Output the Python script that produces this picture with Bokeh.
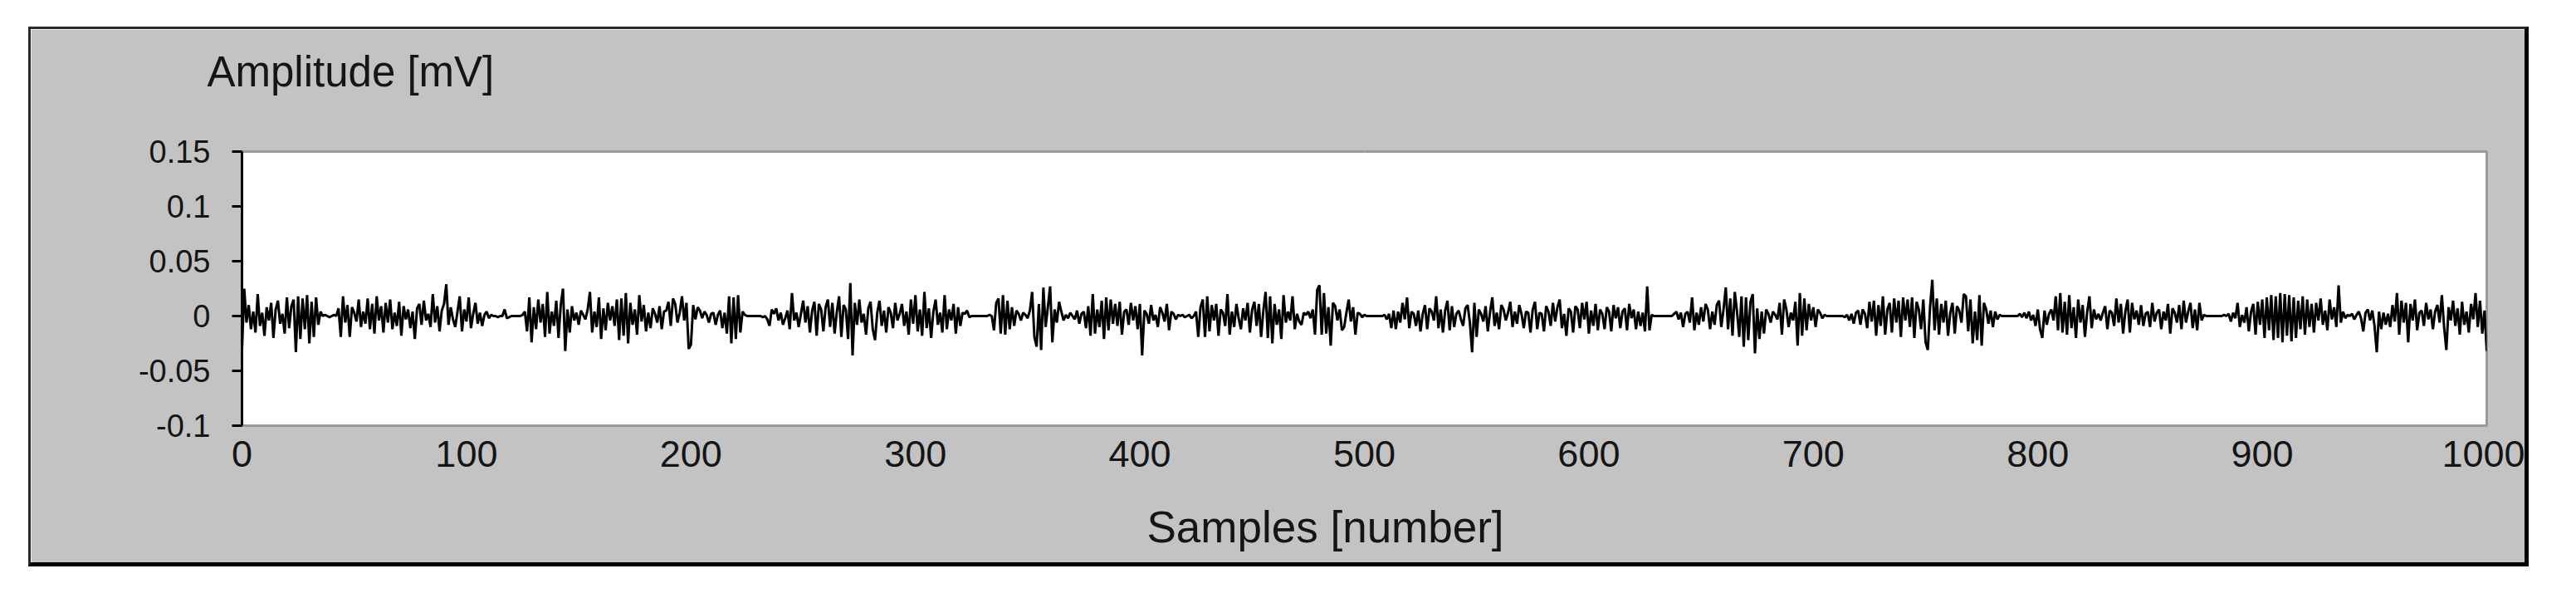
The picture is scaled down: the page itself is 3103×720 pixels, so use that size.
from bokeh.plotting import figure
from bokeh.models import FixedTicker, Title, LinearAxis
from bokeh.embed import file_html
from bokeh.resources import INLINE

# ---- data (amplitude in mV, one value per sample) ----
seg_000 = [-0.031, 0.025, -0.006, 0.010, -0.012, 0.004, -0.015, 0.020, -0.009, 0.003,
           -0.018, 0.008, -0.004, 0.012, -0.020, 0.006, 0.014, -0.007, 0.002, -0.016,
           0.017, -0.011, 0.009, 0.015, -0.033, 0.018, -0.021, 0.016, -0.012, 0.019,
           -0.025, 0.013, -0.019, 0.017, -0.008, 0.004, 0.000, 0.001, 0.000, -0.001,
           0.000, 0.001, 0.000, 0.007, -0.019, 0.018, -0.006, 0.010, -0.019, 0.008,
           0.003, -0.005, 0.015, -0.010, 0.004, -0.007, 0.016, -0.012, 0.011, -0.016,
           0.018, -0.004, 0.009, -0.015, 0.012, -0.006, 0.015, -0.012, 0.003, -0.009,
           0.013, -0.018, 0.009, -0.003, 0.006, -0.011, 0.004, -0.021, 0.007, 0.011,
           -0.008, 0.014, -0.004, 0.002, -0.010, 0.020, -0.006, 0.009, -0.014, 0.005,
           0.011, 0.029, -0.008, 0.008, -0.003, -0.010, 0.004, 0.018, -0.014, 0.006]
seg_100 = [-0.005, 0.017, -0.011, 0.002, 0.012, -0.007, 0.003, -0.009, 0.001, 0.004,
           -0.002, 0.001, 0.000, 0.000, -0.001, 0.000, 0.000, 0.006, -0.002, -0.001,
           0.000, 0.000, 0.000, 0.000, 0.000, 0.001, 0.004, -0.014, 0.017, -0.024,
           0.008, -0.012, 0.015, -0.006, 0.011, -0.019, 0.022, -0.016, 0.004, -0.009,
           0.014, -0.020, 0.010, 0.025, -0.032, 0.006, -0.015, 0.009, -0.004, 0.003,
           -0.008, 0.005, 0.001, -0.003, 0.006, 0.022, -0.015, 0.004, -0.010, 0.017,
           -0.021, 0.007, -0.013, 0.012, -0.004, 0.009, -0.009, 0.015, -0.022, 0.016,
           -0.018, 0.021, -0.025, 0.012, -0.008, 0.006, -0.017, 0.019, -0.005, 0.010,
           -0.014, 0.003, -0.011, 0.007, 0.002, -0.006, 0.009, -0.012, 0.004, 0.005,
           0.013, -0.009, 0.016, 0.011, -0.006, 0.003, 0.018, -0.004, 0.012, -0.030]
seg_200 = [-0.026, 0.010, -0.003, 0.008, 0.005, -0.002, 0.004, 0.001, -0.006, 0.002,
           0.003, -0.008, 0.001, 0.005, -0.011, 0.003, -0.016, 0.018, -0.025, 0.017,
           -0.021, 0.019, -0.015, 0.004, 0.001, 0.000, 0.000, 0.000, 0.000, 0.000,
           0.000, 0.000, -0.001, 0.000, -0.003, -0.009, 0.006, 0.002, 0.007, -0.004,
           0.003, -0.008, -0.002, 0.005, -0.012, 0.021, -0.004, 0.003, -0.010, 0.002,
           0.014, -0.006, 0.009, -0.015, 0.005, 0.013, -0.018, 0.011, 0.006, -0.014,
           0.008, 0.015, -0.010, 0.012, -0.016, 0.004, 0.018, -0.019, 0.010, 0.006,
           -0.021, 0.030, -0.036, 0.012, -0.008, 0.015, -0.006, 0.002, -0.017, 0.007,
           0.013, -0.012, -0.022, 0.003, 0.014, -0.009, 0.005, -0.015, 0.008, 0.003,
           -0.011, 0.012, -0.004, 0.002, 0.011, -0.009, 0.004, -0.017, 0.015, -0.007]
seg_300 = [0.019, -0.014, 0.006, -0.018, 0.022, -0.011, 0.007, -0.020, 0.004, 0.015,
           -0.008, 0.003, -0.015, 0.019, -0.012, 0.006, -0.004, 0.011, -0.016, 0.008,
           -0.009, 0.003, 0.002, 0.005, -0.001, 0.000, 0.000, 0.000, 0.000, 0.000,
           0.000, 0.000, 0.000, 0.001, 0.000, -0.013, 0.012, 0.016, -0.016, 0.019,
           -0.017, 0.014, -0.012, 0.008, -0.009, 0.005, 0.002, -0.004, 0.003, 0.001,
           -0.002, 0.005, 0.022, -0.019, -0.028, 0.011, -0.031, 0.026, -0.010, 0.008,
           0.027, -0.024, 0.006, -0.006, 0.013, 0.004, -0.004, 0.001, -0.002, 0.003,
           0.000, -0.003, 0.005, -0.007, 0.002, 0.004, -0.011, 0.009, -0.018, 0.020,
           -0.016, 0.006, -0.010, 0.014, -0.021, 0.017, -0.013, 0.015, -0.007, 0.011,
           -0.009, 0.013, -0.017, 0.004, 0.006, -0.008, 0.012, -0.004, 0.009, -0.012]
seg_400 = [0.011, -0.036, 0.005, 0.002, -0.007, 0.010, -0.004, 0.001, -0.010, 0.008,
           0.003, -0.005, 0.011, -0.013, 0.004, 0.002, -0.003, 0.001, 0.000, 0.001,
           -0.001, 0.000, 0.001, -0.002, 0.000, 0.004, -0.019, 0.008, 0.015, -0.019,
           0.018, -0.014, 0.010, -0.004, 0.011, -0.018, 0.006, 0.003, -0.009, 0.020,
           -0.017, 0.004, -0.010, 0.011, -0.002, -0.012, 0.007, -0.004, 0.012, -0.015,
           0.006, 0.013, -0.009, 0.011, -0.019, 0.005, 0.022, -0.020, 0.018, -0.025,
           0.011, -0.008, 0.006, -0.021, 0.019, -0.006, 0.004, -0.004, 0.018, -0.012,
           0.002, -0.005, -0.008, 0.003, 0.001, 0.004, -0.002, 0.006, -0.017, 0.024,
           0.028, -0.017, 0.021, -0.016, 0.008, -0.027, 0.012, 0.009, -0.004, 0.006,
           -0.013, -0.010, 0.003, 0.015, -0.005, 0.008, -0.017, 0.003, 0.002, -0.001]
seg_500 = [0.001, 0.000, 0.000, 0.000, 0.000, 0.000, 0.000, 0.000, 0.000, 0.001,
           -0.003, 0.002, -0.011, 0.005, -0.012, 0.004, -0.006, 0.012, -0.003, 0.017,
           -0.011, 0.004, 0.002, -0.009, 0.005, -0.014, 0.002, 0.010, -0.012, 0.007,
           0.004, -0.004, 0.018, -0.011, 0.006, -0.015, 0.005, 0.014, -0.013, 0.009,
           -0.010, 0.002, 0.005, -0.003, -0.009, 0.007, 0.010, -0.006, -0.033, 0.012,
           -0.019, 0.006, 0.002, -0.005, 0.009, -0.014, 0.004, 0.017, -0.009, 0.003,
           -0.012, 0.010, 0.006, -0.004, 0.003, 0.013, -0.010, 0.004, -0.007, 0.010,
           0.002, -0.011, 0.004, 0.003, -0.015, 0.006, 0.013, -0.012, 0.003, 0.002,
           -0.014, 0.009, 0.004, -0.009, 0.012, -0.005, 0.008, 0.015, -0.011, 0.002,
           -0.018, 0.007, 0.004, -0.015, 0.009, 0.006, -0.011, 0.012, -0.003, 0.013]
seg_600 = [-0.016, 0.005, -0.009, 0.011, -0.013, 0.006, 0.002, -0.012, 0.008, 0.004,
           -0.014, 0.010, -0.002, 0.008, -0.011, 0.004, 0.007, -0.013, 0.011, -0.002,
           0.006, -0.012, 0.004, -0.009, 0.003, -0.014, 0.027, -0.013, 0.001, 0.000,
           0.000, 0.000, 0.000, 0.000, 0.000, 0.000, 0.000, 0.000, 0.002, 0.004,
           -0.003, 0.003, -0.010, 0.002, 0.004, -0.006, 0.017, -0.013, 0.003, -0.008,
           0.008, -0.005, 0.011, 0.006, -0.012, 0.004, -0.008, 0.010, 0.014, -0.010,
           0.006, 0.026, -0.012, 0.016, -0.018, 0.022, 0.004, -0.019, 0.018, -0.028,
           0.017, -0.022, 0.013, 0.020, -0.034, 0.007, -0.021, 0.004, -0.016, 0.006,
           0.002, -0.006, 0.004, 0.001, -0.003, 0.012, -0.017, 0.015, 0.006, -0.010,
           0.003, -0.004, 0.013, -0.027, 0.021, -0.018, 0.016, -0.013, 0.011, -0.004]
seg_700 = [0.008, -0.010, 0.006, 0.003, -0.002, 0.001, 0.000, 0.000, 0.000, 0.000,
           0.000, 0.000, 0.000, 0.000, -0.001, 0.001, -0.004, 0.002, -0.007, 0.003,
           0.005, -0.008, 0.006, 0.002, -0.011, 0.013, -0.005, 0.014, -0.018, 0.010,
           -0.009, 0.018, -0.017, 0.006, 0.012, -0.015, 0.016, -0.006, 0.014, -0.019,
           0.017, -0.004, 0.015, -0.010, 0.017, -0.020, 0.013, 0.006, -0.012, 0.015,
           -0.024, -0.031, 0.008, 0.033, -0.013, 0.016, -0.017, 0.011, -0.006, 0.014,
           -0.018, 0.003, 0.012, -0.016, 0.009, 0.005, -0.006, 0.020, 0.018, -0.014,
           0.015, -0.025, 0.004, -0.022, 0.019, -0.027, 0.012, 0.006, -0.007, 0.005,
           -0.010, 0.004, -0.003, 0.001, 0.000, 0.000, 0.000, 0.000, 0.000, 0.000,
           0.000, 0.000, 0.002, -0.001, 0.003, -0.002, 0.004, -0.004, 0.001, -0.009]
seg_800 = [0.006, -0.012, -0.020, 0.005, -0.008, 0.002, 0.006, -0.004, 0.018, -0.013,
           0.021, -0.015, 0.013, -0.017, 0.019, -0.011, 0.008, -0.020, 0.015, -0.006,
           0.010, -0.019, 0.004, 0.018, -0.011, 0.006, -0.003, 0.002, -0.004, 0.003,
           0.009, -0.012, 0.005, 0.003, -0.009, 0.016, -0.006, 0.011, -0.016, 0.004,
           0.015, -0.015, 0.012, -0.003, 0.005, -0.008, 0.010, -0.009, 0.002, 0.004,
           -0.010, 0.012, -0.005, 0.003, 0.006, -0.012, 0.004, -0.004, 0.011, -0.016,
           0.007, 0.003, -0.006, 0.010, -0.012, 0.014, -0.006, 0.004, 0.012, -0.011,
           0.006, -0.013, 0.012, -0.004, 0.001, 0.000, 0.000, 0.000, 0.000, 0.000,
           0.000, 0.000, 0.000, 0.001, 0.000, 0.002, -0.005, 0.003, -0.002, 0.012,
           -0.010, 0.001, -0.006, 0.008, -0.014, 0.004, 0.011, -0.017, 0.013, -0.008]
seg_900 = [0.015, -0.020, 0.017, -0.013, 0.019, -0.022, 0.018, -0.020, 0.021, -0.024,
           0.020, -0.018, 0.019, -0.023, 0.017, -0.020, 0.014, -0.012, 0.018, -0.017,
           0.015, -0.010, 0.011, -0.015, 0.012, -0.004, 0.016, -0.008, 0.005, -0.013,
           0.015, -0.003, 0.008, -0.010, 0.028, -0.006, 0.004, -0.002, 0.001, 0.000,
           0.002, -0.003, 0.001, 0.004, -0.002, -0.014, 0.003, 0.006, -0.004, 0.005,
           -0.009, -0.033, 0.004, -0.012, 0.003, -0.008, 0.002, -0.010, 0.010, -0.005,
           0.021, -0.017, 0.014, -0.006, 0.012, -0.024, 0.011, -0.004, 0.015, -0.013,
           0.003, 0.005, -0.009, 0.012, -0.003, 0.006, -0.012, 0.004, 0.010, -0.006,
           0.019, -0.010, -0.031, 0.008, -0.004, 0.014, -0.009, 0.007, -0.017, 0.013,
           -0.008, 0.004, -0.015, 0.011, -0.003, 0.021, -0.010, 0.014, -0.016, 0.005,
           -0.032]

amplitude = (seg_000 + seg_100 + seg_200 + seg_300 + seg_400 +
             seg_500 + seg_600 + seg_700 + seg_800 + seg_900)
samples = list(range(len(amplitude)))

x_ticks = [0, 100, 200, 300, 400, 500, 600, 700, 800, 900, 1000]
x_tick_labels = ["0", "100", "200", "300", "400", "500", "600", "700", "800", "900", "1000"]
y_ticks = [-0.1, -0.05, 0, 0.05, 0.1, 0.15]
y_tick_labels = ["-0.1", "-0.05", "0", "0.05", "0.1", "0.15"]

y_title = "Amplitude [mV]"
x_title = "Samples  [number]"

FONT = "Liberation Sans"
TXT = "#151515"
PANEL = "#c3c3c3"

p = figure(width=3012, height=650, output_backend="svg", toolbar_location=None,
           x_range=(0, 1000), y_range=(-0.1, 0.15),
           min_border_left=254, min_border_right=54,
           min_border_top=147, min_border_bottom=173)

p.margin = (32, 0, 0, 34)
p.styles = {"border-top": "3px solid #2a2a2a", "border-left": "3px solid #2a2a2a",
            "border-right": "5px solid #000000", "border-bottom": "5px solid #000000"}

p.background_fill_color = "white"
p.border_fill_color = PANEL
p.outline_line_color = "#9a9a9a"
p.outline_line_width = 3
p.xgrid.visible = False
p.ygrid.visible = False

# ---- main axes (grab them before any extra layout item is added) ----
xa = p.below[0]
ya = p.left[0]

xa.ticker = FixedTicker(ticks=x_ticks)
xa.major_label_overrides = {t: l for t, l in zip(x_ticks, x_tick_labels)}
xa.axis_line_color = None
xa.major_tick_line_color = None
xa.minor_tick_line_color = None
xa.major_tick_out = 0
xa.major_tick_in = 0
xa.major_label_standoff = 18
xa.major_label_text_font = FONT
xa.major_label_text_font_size = "45px"
xa.major_label_text_color = TXT

ya.ticker = FixedTicker(ticks=y_ticks)
ya.major_label_overrides = {t: l for t, l in zip(y_ticks, y_tick_labels)}
ya.axis_line_color = "black"
ya.axis_line_width = 3
ya.major_tick_line_color = "black"
ya.major_tick_line_width = 3
ya.major_tick_out = 12
ya.major_tick_in = 0
ya.minor_tick_line_color = None
ya.major_label_standoff = 26
ya.major_label_text_font = FONT
ya.major_label_text_font_size = "38px"
ya.major_label_text_color = TXT


def spacer(size):
    """An axis drawn in the panel colour, used only to reserve room in a side panel."""
    return LinearAxis(ticker=FixedTicker(ticks=[500]), axis_line_color=None,
                      major_tick_line_color=PANEL, major_tick_line_width=1,
                      minor_tick_line_color=None,
                      major_tick_out=size, major_tick_in=0,
                      minor_tick_out=0, minor_tick_in=0,
                      major_label_standoff=0, major_label_text_color=None,
                      major_label_text_font_size="0px")


# y title above the frame (the title is the outermost item of the top panel)
p.add_layout(spacer(68), "above")
p.title.text = y_title
p.title.align = "left"
p.title.offset = -42
p.title.standoff = 0
p.title.text_font = FONT
p.title.text_font_size = "51px"
p.title.text_font_style = "normal"
p.title.text_color = TXT

# x title below the tick labels
p.add_layout(spacer(38), "below")
p.add_layout(Title(text=x_title, align="left", offset=1090, standoff=0,
                   text_font=FONT, text_font_size="53px", text_font_style="normal",
                   text_color=TXT), "below")

p.line(samples, amplitude, line_color="black", line_width=3)

open("out.html", "w").write(file_html(p, INLINE))
